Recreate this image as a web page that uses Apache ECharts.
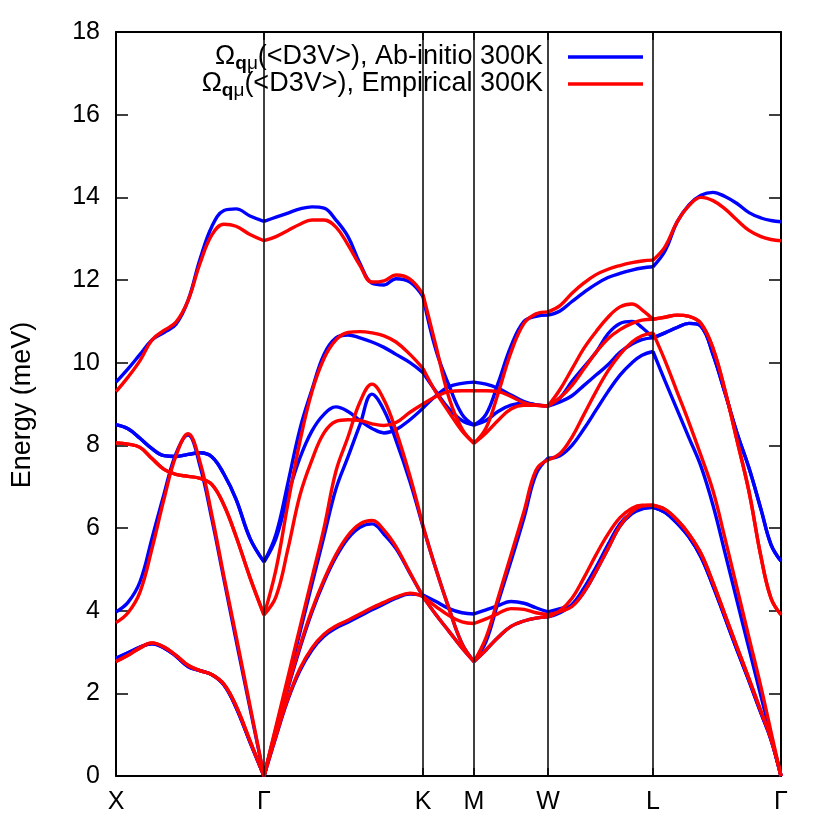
<!DOCTYPE html>
<html>
<head>
<meta charset="utf-8">
<script src="https://cdn.jsdelivr.net/npm/echarts@6/dist/echarts.min.js"></script>
<style>
  html, body { margin: 0; padding: 0; background: #fff; }
  #main { width: 830px; height: 830px; }
</style>
</head>
<body>
<div id="main"></div>
<script>
// path coordinate (distance along X-Γ-K-M-W-L-Γ)
const kx = [0, 12, 24, 36, 48, 60, 72, 84, 96, 108, 120, 134, 148,
  160, 172, 184, 196, 208, 220, 232, 244, 256, 268, 280, 294, 307,
  320, 333, 346, 358,
  370, 382, 395, 408, 420, 432,
  444, 456, 468, 480, 492, 504, 516, 526, 537,
  549, 561, 573, 585, 597, 609, 621, 633, 645, 655, 665];
const kTicks = [0, 148, 307, 358, 432, 537, 665];
const kLabels = ['X', 'Γ', 'K', 'M', 'W', 'L', 'Γ'];

// Ab-initio 300K (meV)
const abLO = [9.53, 9.85, 10.2, 10.55, 10.73, 10.93, 11.5, 12.5, 13.3, 13.68, 13.72, 13.55, 13.42,
  13.52, 13.62, 13.72, 13.77, 13.74, 13.45, 13.05, 12.4, 11.92, 11.88, 12.03, 11.95, 11.6,
  10.3, 9.45, 8.75, 8.49,
  8.75, 9.5, 10.4, 11.0, 11.12, 11.15,
  11.25, 11.48, 11.7, 11.9, 12.06, 12.16, 12.24, 12.29, 12.32,
  12.7, 13.4, 13.82, 14.05, 14.12, 14.02, 13.85, 13.63, 13.5, 13.44, 13.41];
const abTO1 = [8.5, 8.4, 8.17, 7.92, 7.75, 7.73, 7.78, 7.82, 7.72, 7.3, 6.7, 5.75, 5.18,
  5.85, 7.1, 8.4, 9.35, 10.2, 10.6, 10.67, 10.6, 10.5, 10.37, 10.2, 10.0, 9.76,
  9.3, 8.88, 8.6, 8.49,
  8.6, 8.82, 8.97, 9.02, 8.98, 8.95,
  9.15, 9.55, 9.9, 10.25, 10.7, 10.95, 11.0, 10.85, 10.6,
  10.72, 10.85, 10.95, 10.88, 10.2, 9.27, 8.3, 7.45, 6.45, 5.6, 5.2];
const abTO2 = [8.5, 8.4, 8.17, 7.92, 7.75, 7.73, 7.78, 7.82, 7.72, 7.3, 6.7, 5.75, 5.18,
  5.75, 6.8, 7.7, 8.35, 8.75, 8.93, 8.82, 8.6, 8.41, 8.3, 8.38, 8.62, 8.9,
  9.2, 9.42, 9.5, 9.53,
  9.48, 9.38, 9.22, 9.06, 8.98, 8.95,
  9.05, 9.2, 9.45, 9.7, 9.95, 10.25, 10.45, 10.56, 10.6,
  10.72, 10.85, 10.95, 10.88, 10.2, 9.27, 8.3, 7.45, 6.45, 5.6, 5.2];
const abLA = [3.97, 4.2, 4.7, 5.75, 6.82, 7.8, 8.25, 7.5, 6.2, 4.75, 3.3, 1.64, 0,
  1.16, 2.32, 3.48, 4.65, 5.8, 6.95, 7.72, 8.5, 9.24, 8.85, 8.12, 7.12, 6.03,
  5.0, 4.05, 3.2, 2.77,
  3.25, 4.2, 5.2, 6.25, 7.3, 7.69,
  7.75, 8.0, 8.4, 8.85, 9.3, 9.7, 10.0, 10.18, 10.27,
  9.56, 8.87, 8.18, 7.49, 6.55, 5.4, 4.24, 3.08, 1.93, 0.96, 0];
const abTA1 = [2.85, 2.98, 3.12, 3.2, 3.1, 2.9, 2.65, 2.55, 2.45, 2.2, 1.66, 0.82, 0,
  1.08, 2.13, 3.1, 3.97, 4.7, 5.3, 5.75, 6.02, 6.1, 5.85, 5.5, 4.9, 4.34,
  3.9, 3.5, 3.1, 2.77,
  3.05, 3.35, 3.62, 3.75, 3.82, 3.85,
  3.95, 4.15, 4.55, 5.05, 5.6, 6.1, 6.38, 6.47, 6.5,
  6.38, 6.12, 5.78, 5.3, 4.6, 3.83, 3.05, 2.3, 1.52, 0.88, 0];
const abTA2 = [2.85, 2.98, 3.12, 3.2, 3.1, 2.9, 2.65, 2.55, 2.45, 2.2, 1.66, 0.82, 0,
  0.95, 1.85, 2.55, 3.05, 3.38, 3.58, 3.72, 3.87, 4.02, 4.16, 4.3, 4.4, 4.38,
  4.22, 4.05, 3.95, 3.92,
  4.02, 4.12, 4.22, 4.18, 4.07, 3.97,
  4.05, 4.12, 4.45, 4.95, 5.5, 6.05, 6.35, 6.46, 6.5,
  6.38, 6.12, 5.78, 5.3, 4.6, 3.83, 3.05, 2.3, 1.52, 0.88, 0];

// Empirical 300K (meV)
const emLO = [9.3, 9.65, 10.05, 10.55, 10.78, 10.98, 11.5, 12.4, 13.1, 13.35, 13.3, 13.1, 12.95,
  13.05, 13.2, 13.35, 13.45, 13.45, 13.28, 12.85, 12.35, 11.95, 11.98, 12.12, 12.02, 11.65,
  10.4, 9.15, 8.4, 8.05,
  8.42, 9.25, 10.25, 10.95, 11.18, 11.23,
  11.38, 11.68, 11.93, 12.13, 12.26, 12.35, 12.42, 12.46, 12.48,
  12.8, 13.4, 13.8, 14.0, 13.92, 13.72, 13.45, 13.2, 13.05, 12.98, 12.95];
const emTO1 = [8.06, 8.03, 7.95, 7.68, 7.42, 7.3, 7.25, 7.2, 7.05, 6.55, 5.8, 4.8, 3.9,
  5.0, 6.6, 8.1, 9.3, 10.1, 10.55, 10.73, 10.75, 10.72, 10.65, 10.5, 10.2, 9.86,
  9.28, 8.8, 8.35, 8.05,
  8.3, 8.6, 8.88, 8.97, 8.97, 8.95,
  9.35, 9.85, 10.35, 10.75, 11.1, 11.35, 11.42, 11.28, 11.05,
  11.1, 11.15, 11.12, 10.95, 10.35, 9.33, 8.12, 6.88, 5.3, 4.3, 3.9];
const emTO2 = [8.06, 8.03, 7.95, 7.68, 7.42, 7.3, 7.25, 7.2, 7.05, 6.55, 5.8, 4.8, 3.9,
  4.34, 5.5, 6.8, 7.65, 8.3, 8.58, 8.62, 8.6, 8.52, 8.48, 8.55, 8.8, 9.0,
  9.18, 9.3, 9.32, 9.32,
  9.32, 9.3, 9.18, 9.03, 8.97, 8.95,
  9.15, 9.45, 9.85, 10.25, 10.58, 10.8, 10.95, 11.03, 11.05,
  11.1, 11.15, 11.12, 10.95, 10.35, 9.33, 8.12, 6.88, 5.3, 4.3, 3.9];
const emLA = [3.71, 3.95, 4.45, 5.5, 6.7, 7.75, 8.28, 7.6, 6.3, 4.82, 3.4, 1.7, 0,
  1.2, 2.4, 3.6, 4.8, 6.0, 7.38, 8.2, 9.05, 9.48, 9.1, 8.35, 7.25, 6.05,
  5.0, 4.05, 3.2, 2.77,
  3.35, 4.3, 5.35, 6.4, 7.4, 7.65,
  7.8, 8.2, 8.75, 9.3, 9.8, 10.2, 10.5, 10.65, 10.72,
  10.05, 9.3, 8.55, 7.75, 6.9, 5.75, 4.55, 3.35, 2.15, 1.07, 0];
const emTA1 = [2.77, 2.92, 3.1, 3.22, 3.12, 2.92, 2.68, 2.55, 2.45, 2.22, 1.7, 0.85, 0,
  1.1, 2.17, 3.15, 4.02, 4.75, 5.36, 5.82, 6.1, 6.18, 5.95, 5.55, 4.92, 4.34,
  3.9, 3.5, 3.1, 2.77,
  3.05, 3.35, 3.62, 3.75, 3.82, 3.85,
  4.0, 4.3, 4.8, 5.35, 5.85, 6.25, 6.48, 6.55, 6.55,
  6.45, 6.2, 5.85, 5.38, 4.68, 3.9, 3.12, 2.35, 1.56, 0.9, 0];
const emTA2 = [2.77, 2.92, 3.1, 3.22, 3.12, 2.92, 2.68, 2.55, 2.45, 2.22, 1.7, 0.85, 0,
  0.97, 1.88, 2.6, 3.1, 3.43, 3.63, 3.77, 3.92, 4.07, 4.2, 4.33, 4.42, 4.34,
  4.1, 3.88, 3.73, 3.69,
  3.8, 3.93, 4.05, 4.03, 3.95, 3.9,
  3.98, 4.1, 4.45, 4.95, 5.5, 6.05, 6.4, 6.53, 6.55,
  6.45, 6.2, 5.85, 5.38, 4.68, 3.9, 3.12, 2.35, 1.56, 0.9, 0];

const abBands = [abLO, abTO1, abTO2, abLA, abTA1, abTA2];
const emBands = [emLO, emTO1, emTO2, emLA, emTA1, emTA2];

const FONT = '"Liberation Sans", Arial, Helvetica, sans-serif';
const BLUE = '#0000ff';
const RED = '#ff0000';

// split a band at the high-symmetry points so kinks stay sharp
function segments(vals) {
  const out = [];
  for (let s = 0; s < kTicks.length - 1; s++) {
    const pts = [];
    for (let i = 0; i < kx.length; i++) {
      if (kx[i] >= kTicks[s] && kx[i] <= kTicks[s + 1]) pts.push([kx[i], vals[i]]);
    }
    out.push(pts);
  }
  return out;
}

const series = [];
function addBands(bands, color, name) {
  bands.forEach(b => {
    segments(b).forEach(pts => {
      series.push({
        name: name,
        type: 'line',
        data: pts,
        smooth: 0.4,
        showSymbol: false,
        silent: true,
        lineStyle: { color: color, width: 3.4 }
      });
    });
  });
}
addBands(abBands, BLUE, 'ab');
addBands(emBands, RED, 'em');

// vertical lines at the high-symmetry points
series.unshift({
  type: 'line',
  data: [],
  silent: true,
  markLine: {
    symbol: 'none',
    silent: true,
    animation: false,
    label: { show: false },
    lineStyle: { color: '#000', width: 1.5, type: 'solid' },
    data: kTicks.slice(1, -1).map(v => ({ xAxis: v }))
  }
});

// legend text (measured so the subscript sits right)
const cv = document.createElement('canvas').getContext('2d');
function tw(t, f) { cv.font = f; return cv.measureText(t).width; }
const FS = 25, LS = 27, SS = 19;
const fMain = LS + 'px ' + FONT;
const fSub = SS + 'px ' + FONT;
const fSubB = 'bold ' + SS + 'px ' + FONT;
function legendRow(tail, y, color) {
  const right = 543;
  const xTail = right - tw(tail, fMain);
  const xMu = xTail - tw('μ', fSub);
  const xQ = xMu - tw('q', fSubB);
  const xO = xQ - tw('Ω', fMain);
  const st = (t, f, x, yy) => ({
    type: 'text', x: x, y: yy, silent: true,
    style: { text: t, font: f, fill: '#000', textVerticalAlign: 'middle', textAlign: 'left' }
  });
  return [
    st('Ω', fMain, xO, y),
    st('q', fSubB, xQ, y + 7),
    st('μ', fSub, xMu, y + 7),
    st(tail, fMain, xTail, y),
    { type: 'line', silent: true, shape: { x1: 568, y1: y, x2: 643, y2: y },
      style: { stroke: color, lineWidth: 3.4 } }
  ];
}

const axisLine = { show: true, onZero: false, lineStyle: { color: '#000', width: 2 } };
const tickStyle = { color: '#000', width: 1.5 };

const chart = echarts.init(document.getElementById('main'), null, { renderer: 'canvas' });
chart.setOption({
  animation: false,
  backgroundColor: '#fff',
  grid: { left: 116, right: 49, top: 32, bottom: 54 },
  xAxis: [{
    type: 'value', min: 0, max: 665, position: 'bottom',
    axisLine: axisLine,
    axisTick: { inside: true, length: 8, customValues: kTicks, lineStyle: tickStyle },
    axisLabel: {
      customValues: kTicks, color: '#000', fontSize: FS, fontFamily: FONT, margin: 14,
      formatter: v => kLabels[kTicks.indexOf(v)]
    },
    splitLine: { show: false }
  }, {
    type: 'value', min: 0, max: 665, position: 'top',
    axisLine: axisLine,
    axisTick: { inside: true, length: 8, customValues: kTicks, lineStyle: tickStyle },
    axisLabel: { show: false },
    splitLine: { show: false }
  }],
  yAxis: [{
    type: 'value', min: 0, max: 18, interval: 2, position: 'left',
    axisLine: axisLine,
    axisTick: { show: true, inside: true, length: 12, lineStyle: tickStyle },
    axisLabel: { color: '#000', fontSize: FS, fontFamily: FONT, margin: 16 },
    splitLine: { show: false }
  }, {
    type: 'value', min: 0, max: 18, interval: 2, position: 'right',
    axisLine: axisLine,
    axisTick: { show: true, inside: true, length: 12, lineStyle: tickStyle },
    axisLabel: { show: false },
    splitLine: { show: false }
  }],
  graphic: [
    {
      type: 'text', x: 23, y: 405, rotation: Math.PI / 2, silent: true,
      style: { text: 'Energy (meV)', font: fMain, fill: '#000', textAlign: 'center', textVerticalAlign: 'middle' }
    },
    ...legendRow('(<D3V>), Ab-initio 300K', 57, BLUE),
    ...legendRow('(<D3V>), Empirical 300K', 84, RED)
  ],
  series: series
});
</script>
</body>
</html>
